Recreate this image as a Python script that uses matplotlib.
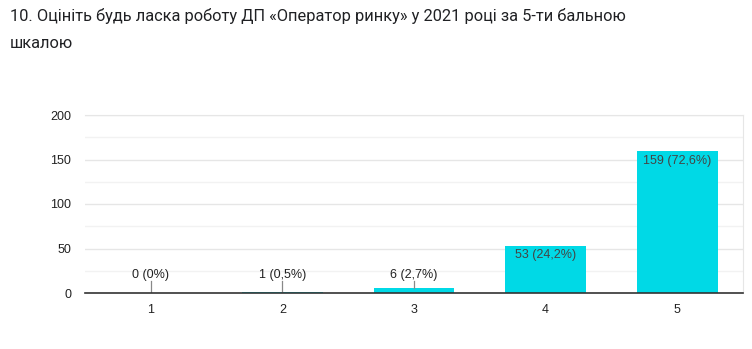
import matplotlib.pyplot as plt
from matplotlib.ticker import MultipleLocator

title = "10. Оцініть будь ласка роботу ДП «Оператор ринку» у 2021 році за 5-ти бальною\nшкалою"
categories = ["1", "2", "3", "4", "5"]
counts = [0, 1, 6, 53, 159]
percents = ["0%", "0,5%", "2,7%", "24,2%", "72,6%"]

bar_color = "#00D9E6"
text_color = "#444444"

fig = plt.figure(figsize=(7.52, 3.49), dpi=100)
ax = fig.add_axes([85 / 752, 1 - 293 / 349, 658 / 752, 178 / 349])

x = range(len(categories))
ax.bar(x, counts, width=0.615, color=bar_color, zorder=3)

ax.set_xlim(-0.5, 4.5)
ax.set_ylim(0, 200)
ax.set_xticks(list(x))
ax.set_xticklabels(categories)
ax.yaxis.set_major_locator(MultipleLocator(50))
ax.yaxis.set_minor_locator(MultipleLocator(25))
ax.grid(axis="y", which="major", color="#E6E6E6", linewidth=1, zorder=0)
ax.grid(axis="y", which="minor", color="#F2F2F2", linewidth=1, zorder=0)

for side in ["top", "right"]:
    ax.spines[side].set_color("#E6E6E6")
ax.spines["left"].set_visible(False)
ax.spines["bottom"].set_color("#333333")
ax.spines["bottom"].set_linewidth(1.2)
ax.spines["bottom"].set_zorder(4)

ax.tick_params(axis="both", which="both", length=0, labelsize=9, labelcolor="#222222")
ax.tick_params(axis="x", pad=8)
ax.tick_params(axis="y", pad=10)
for lbl in ax.get_xticklabels() + ax.get_yticklabels():
    lbl.set_family("Liberation Sans")

# value labels: inside the bar top for tall bars, above with a leader line for short ones
for i, (c, p) in enumerate(zip(counts, percents)):
    label = f"{c} ({p})"
    if c >= 30:
        ax.text(i, c - 3.5, label, ha="center", va="top", fontsize=9,
                color=text_color, family="Liberation Sans", zorder=5)
    else:
        ax.plot([i, i], [c, 13], color="#888888", linewidth=0.9, zorder=4)
        ax.text(i, 14, label, ha="center", va="bottom", fontsize=9,
                color="#222222", family="Liberation Sans", zorder=5)

fig.text(10 / 752, 1 - 8 / 349, title, ha="left", va="top", fontsize=11.8,
         color="#202124", family="Roboto", linespacing=2.0)

fig.savefig("out.png", dpi=100)
